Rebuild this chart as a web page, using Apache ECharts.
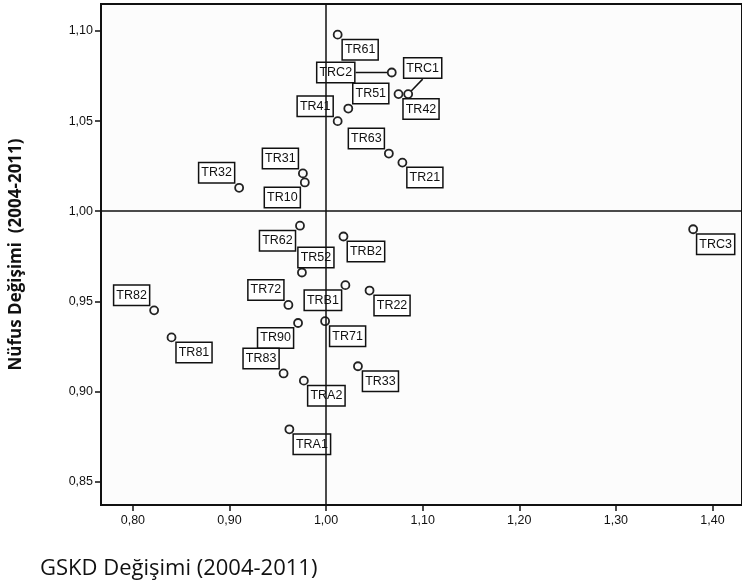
<!DOCTYPE html>
<html>
<head>
<meta charset="utf-8">
<script src="https://cdn.jsdelivr.net/npm/echarts@6/dist/echarts.min.js"></script>
<style>
html,body{margin:0;padding:0;background:#fff;}
#chart{width:742px;height:584px;}
</style>
</head>
<body>
<div id="chart"></div>
<script>
// ---- data ----
const regions = ['TR61','TRC2','TRC1','TR42','TR51','TR41','TR63','TR21','TR31','TR10','TR32',
                 'TR62','TRB2','TR52','TR72','TRB1','TR22','TR82','TR90','TR71','TR81','TR83','TR33','TRA2','TRA1','TRC3'];
const gskdChange = [1.012,1.068,1.085,1.075,1.023,1.012,1.065,1.079,0.976,0.978,0.910,
                    0.973,1.018,0.975,0.961,1.020,1.045,0.822,0.971,0.999,0.840,0.956,1.033,0.977,0.962,1.380];
const nufusChange = [1.098,1.077,1.065,1.065,1.057,1.050,1.032,1.027,1.021,1.016,1.013,
                     0.992,0.986,0.966,0.948,0.959,0.956,0.945,0.938,0.939,0.930,0.910,0.914,0.906,0.879,0.990];
const xTicks = [0.80,0.90,1.00,1.10,1.20,1.30,1.40];
const yTicks = [0.85,0.90,0.95,1.00,1.05,1.10];
const refX = 1.00, refY = 1.00;

// ---- label placement (style) ----
const P = 22.5, Q = 15;
const place = {
  TR61:[P,Q], TRC2:[-56,0], TRC1:[14.5,-26], TR42:[P,Q], TR51:[P,-Q], TR41:[-P,-Q],
  TR63:[-P,-Q], TR21:[P,Q], TR31:[-P,-Q], TR10:[-P,Q], TR32:[-P,-Q],
  TR62:[-P,Q], TRB2:[P,Q], TR52:[14,-Q], TR72:[-P,-Q], TRB1:[-P,Q], TR22:[P,Q],
  TR82:[-P,-Q], TR90:[-P,Q], TR71:[P,Q], TR81:[P,Q], TR83:[-P,-Q], TR33:[P,Q],
  TRA2:[P,Q], TRA1:[P,Q], TRC3:[P,Q]
};
const withLine = {TRC2:true, TRC1:true};

const fmt = v => v.toFixed(2).replace('.', ',');

const data = regions.map((n,i) => ({
  name:n, value:[gskdChange[i], nufusChange[i]],
  labelLine:{show: !!withLine[n], lineStyle:{color:'#111', width:1.5}}
}));

const gridLeft = 101, gridRight = -3, pxPerUnitX = 970.5;
const xMin = 0.767;
const xMax = xMin + (742 - gridLeft - gridRight) / pxPerUnitX;

const chart = echarts.init(document.getElementById('chart'), null, {renderer:'canvas'});
chart.setOption({
  backgroundColor:'#ffffff',
  animation:false,
  title:{
    text:'GSKD Değişimi (2004-2011)',
    left:35, top:553,
    textStyle:{fontFamily:'Open Sans', fontWeight:'normal', fontSize:22, color:'#111'}
  },
  grid:{left:gridLeft, right:gridRight, top:4, bottom:79, show:true,
        borderColor:'#111', borderWidth:2, backgroundColor:'#fcfcfc'},
  xAxis:{
    type:'value', min:xMin, max:xMax,
    axisLine:{show:true, lineStyle:{color:'#111', width:2}},
    axisTick:{show:true, customValues:xTicks, length:6, lineStyle:{color:'#111', width:1.5}},
    axisLabel:{customValues:xTicks, formatter:fmt, margin:9,
               fontFamily:'Liberation Sans', fontSize:12.5, color:'#111'},
    splitLine:{show:false}
  },
  yAxis:{
    type:'value', min:0.837, max:1.115,
    name:'Nüfus Değişimi  (2004-2011)', nameLocation:'middle', nameGap:76, nameRotate:90,
    nameTextStyle:{fontFamily:'Open Sans', fontWeight:'bold', fontSize:17, color:'#111'},
    axisLine:{show:true, lineStyle:{color:'#111', width:2}},
    axisTick:{show:true, customValues:yTicks, length:6, lineStyle:{color:'#111', width:1.5}},
    axisLabel:{customValues:yTicks, formatter:fmt, margin:8,
               fontFamily:'Liberation Sans', fontSize:12.5, color:'#111'},
    splitLine:{show:false}
  },
  series:[{
    type:'scatter',
    data:data,
    symbol:'circle', symbolSize:8,
    itemStyle:{color:'rgba(255,255,255,0)', borderColor:'#222', borderWidth:1.8, opacity:1},
    label:{
      show:true, position:'inside', formatter:'{b}',
      fontFamily:'Liberation Sans', fontSize:12.5, color:'#111',
      backgroundColor:'#ffffff', borderColor:'#111', borderWidth:1.5,
      padding:[3,2,2,2], lineHeight:14
    },
    labelLine:{show:false},
    labelLayout: function (p) {
      const o = place[regions[p.dataIndex]] || [P,Q];
      return {dx:o[0], dy:o[1]};
    },
    markLine:{
      silent:true, symbol:'none', label:{show:false},
      lineStyle:{color:'#111', width:1.5, type:'solid'},
      data:[{xAxis:refX}, {yAxis:refY}]
    },
    z:3
  }]
});
</script>
</body>
</html>
